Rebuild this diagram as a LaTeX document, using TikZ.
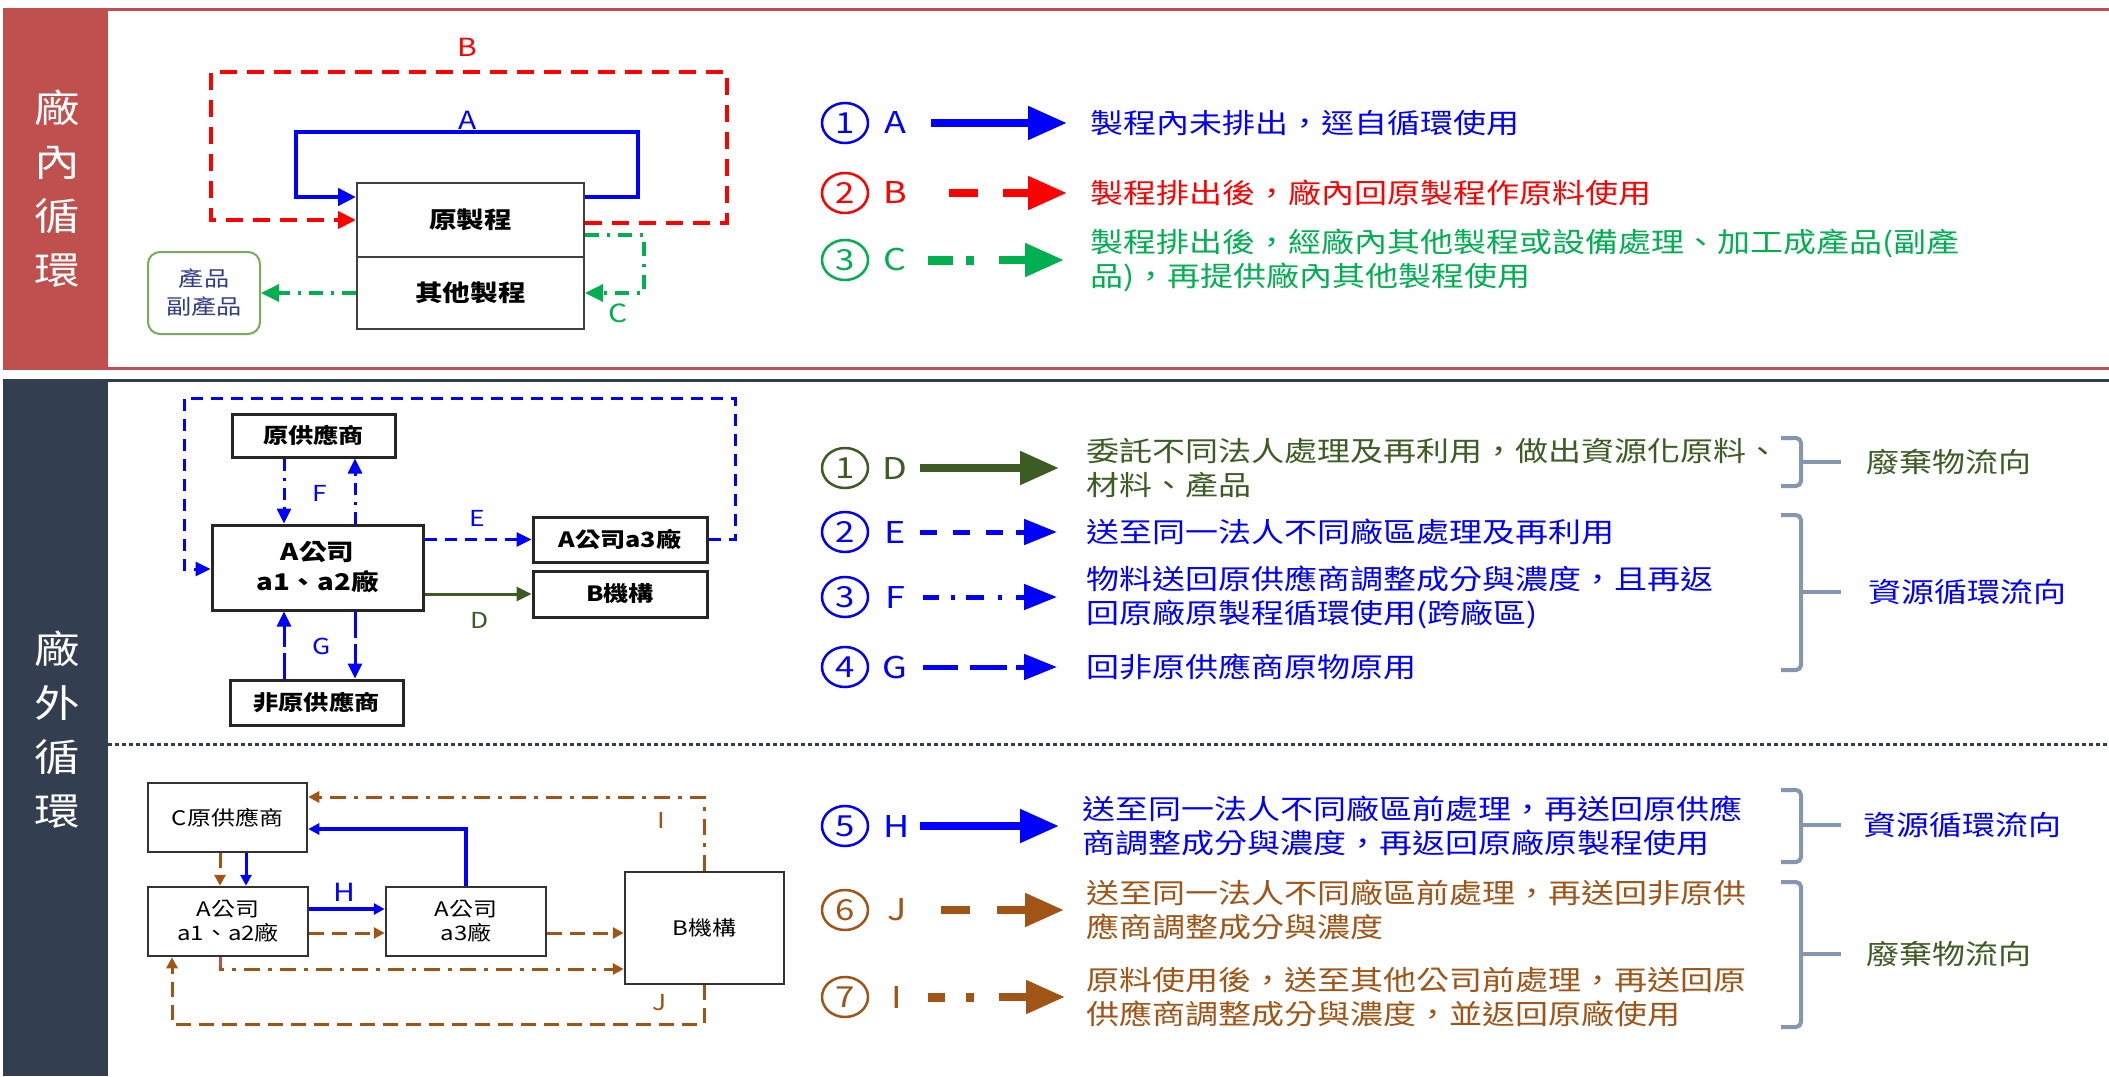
\documentclass[tikz,border=0pt]{standalone}
\usepackage{fontspec}
\setmainfont{Noto Sans CJK TC}[FakeStretch=1.2]
\usetikzlibrary{arrows.meta,shapes.geometric}
\definecolor{bandred}{RGB}{192,80,77}
\definecolor{slate}{RGB}{51,63,80}
\definecolor{cblue}{RGB}{0,0,255}
\definecolor{cred}{RGB}{255,0,0}
\definecolor{cgreen}{RGB}{0,176,80}
\definecolor{dgreen}{RGB}{60,92,36}
\definecolor{cbrown}{RGB}{160,84,22}
\definecolor{bracec}{RGB}{132,151,176}
\definecolor{navy}{RGB}{47,60,140}
\definecolor{pgreen}{RGB}{120,172,92}
\newcommand\myfs[2]{\fontsize{#1}{#2}\selectfont}
\begin{document}
\begin{tikzpicture}[x=1pt,y=-1pt,
  box/.style={draw=black!85, line width=2.5, inner sep=0, align=center, font=\bfseries\myfs{21}{26}},
  boxlow/.style={draw=black!80, line width=2.5, inner sep=0, align=center, font=\myfs{20}{24}},
  bandtxt/.style={text=white, align=center, inner sep=0, font=\myfs{38}{54}},
  lbl/.style={inner sep=0, font=\myfs{25}{30}},
  lbls/.style={inner sep=0, font=\myfs{22}{26}},
  legl/.style={inner sep=0, font=\myfs{30}{34}},
  legt/.style={anchor=west, inner sep=0, align=left, font=\myfs{27.5}{34}},
  circ/.style={ellipse, draw, line width=2.5, minimum width=46, minimum height=40, inner sep=0, font=\myfs{29}{32}},
  tipL/.style={-{Triangle[length=18pt,width=17pt]}},
  tipM/.style={-{Triangle[length=15pt,width=14pt]}},
  tipS/.style={-{Triangle[length=11pt,width=11pt]}},
  bigtip/.style={-{Triangle[length=39pt,width=32pt]}},
  midtip/.style={-{Triangle[length=33pt,width=25pt]}},
  dashB/.style={dash pattern=on 17pt off 10pt},
  dashdot/.style={dash pattern=on 14pt off 8pt on 3pt off 8pt},
  dashE/.style={dash pattern=on 12pt off 8pt},
  dashF/.style={dash pattern=on 12pt off 7pt on 3pt off 7pt},
  dashG/.style={dash pattern=on 26pt off 6pt},
  dashJ/.style={dash pattern=on 15pt off 8pt},
  dashI/.style={dash pattern=on 16pt off 8pt on 4pt off 8pt},
  brace/.style={draw=bracec, line width=4, rounded corners=5}]
\useasboundingbox (0,0) rectangle (2109,1076);
\fill[white] (0,0) rectangle (2109,1076);
% panels
\fill[bandred] (3,8) rectangle (108,369);
\draw[bandred,line width=3] (3,9) -- (2109,9);
\draw[bandred,line width=3] (3,368) -- (2109,368);
\fill[slate] (3,379) rectangle (108,1076);
\draw[slate,line width=3] (3,380) -- (2109,380);
\draw[slate,line width=3,dash pattern=on 4pt off 3pt] (108,744) -- (2109,744);
\node[bandtxt] (bt1) at (57,189) {廠\\內\\循\\環};
\node[bandtxt] (bt2) at (57,730) {廠\\外\\循\\環};

% ---------- top diagram ----------
\node[box, draw=black!75, line width=2, minimum width=227, minimum height=74, font=\bfseries\myfs{23}{28}] (proc) at (470.5,220) {原製程};
\node[box, draw=black!75, line width=2, minimum width=227, minimum height=72, font=\bfseries\myfs{23}{28}] (oth) at (470.5,293) {其他製程};
\node[draw=pgreen, line width=2, rounded corners=12, minimum width=112, minimum height=82, text=navy, font=\myfs{21}{28}, align=center, inner sep=0] (prod) at (204,293) {產品\\副產品};
\draw[cblue, line width=4.5, tipL] (proc.east |- 0,197) -- (638,197) -- (638,132) -- (296,132) -- (296,197) -- (proc.west |- 0,197);
\draw[cred, line width=4, dashB, tipL] (proc.east |- 0,223) -- (727,223) -- (727,72) -- (211,72) -- (211,220) -- (proc.west |- 0,220);
\draw[cgreen, line width=3.5, dashdot, tipL] (proc.east |- 0,235) -- (644,235) -- (644,293) -- (oth.east);
\draw[cgreen, line width=3.5, dashdot, tipL] (oth.west) -- (prod.east);
\node[lbl, text=cblue] (lA) at (468,120) {A};
\node[lbl, text=cred] (lB) at (467,47) {B};
\node[lbl, text=cgreen] (lC) at (618,313) {C};

% ---------- top legend ----------
\node[circ, draw=cblue, text=cblue] (c1) at (845,123) {1};
\node[legl, text=cblue] (LA) at (895,123) {A};
\draw[cblue, line width=8, bigtip] (931,123) -- (1067,123);
\node[legt, text=cblue] (tA) at (1090,123) {製程內未排出，逕自循環使用};

\node[circ, draw=cred, text=cred] (c2) at (845,193) {2};
\node[legl, text=cred] (LB) at (895,193) {B};
\draw[cred, line width=8] (949,193) -- (978,193);
\draw[cred, line width=8, bigtip] (1003,193) -- (1067,193);
\node[legt, text=cred] (tB) at (1090,193) {製程排出後，廠內回原製程作原料使用};

\node[circ, draw=cgreen, text=cgreen] (c3) at (845,260) {3};
\node[legl, text=cgreen] (LC) at (895,260) {C};
\draw[cgreen, line width=9] (928,260) -- (953,260) (966,260) -- (974,260);
\draw[cgreen, line width=8, bigtip] (999,260) -- (1064,260);
\node[legt, text=cgreen] (tC) at (1090,260) {製程排出後，經廠內其他製程或設備處理、加工成產品(副產\\品)，再提供廠內其他製程使用};

% ---------- bottom upper diagram ----------
\node[box, line width=3, minimum width=163, minimum height=43] (sup) at (313.5,435.5) {原供應商};
\node[box, line width=3, minimum width=211, minimum height=85, font=\bfseries\myfs{23}{30}] (ac) at (317.5,567.5) {A公司\\a1、a2廠};
\node[box, line width=3, minimum width=174, minimum height=45] (a3) at (620,539.5) {A公司a3廠};
\node[box, line width=3, minimum width=174, minimum height=46] (bj) at (620,594) {B機構};
\node[box, line width=3, minimum width=173, minimum height=45] (nsup) at (316.5,702.5) {非原供應商};
\draw[cblue, line width=3, dashF, tipM] (sup.south -| 284,0) -- (ac.north -| 284,0);
\draw[cblue, line width=3, dashF, tipM] (ac.north -| 355,0) -- (sup.south -| 355,0);
\draw[cblue, line width=3, dashG, tipM] (nsup.north -| 284,0) -- (ac.south -| 284,0);
\draw[cblue, line width=3, dashG, tipM] (ac.south -| 355,0) -- (nsup.north -| 355,0);
\draw[cblue, line width=3, dashE, tipM] (ac.east |- 0,539.5) -- (a3.west);
\draw[dgreen, line width=3, tipM] (ac.east |- 0,594) -- (bj.west);
\draw[cblue, line width=3, dashE, tipM] (a3.east) -- (735,539.5) -- (735,398) -- (184,398) -- (184,569) -- (ac.west |- 0,569);
\node[lbls, text=cblue] (lF) at (320,493) {F};
\node[lbls, text=cblue] (lE) at (477,518) {E};
\node[lbls, text=dgreen] (lD) at (480,620) {D};
\node[lbls, text=cblue] (lG) at (322,646) {G};

% ---------- bottom legend (upper) ----------
\node[circ, draw=dgreen, text=dgreen] (c4) at (845,468) {1};
\node[legl, text=dgreen] (LD) at (895,468) {D};
\draw[dgreen, line width=8, bigtip] (920,468) -- (1059,468);
\node[legt, text=dgreen] (tD) at (1086,468) {委託不同法人處理及再利用，做出資源化原料、\\材料、產品};

\node[circ, draw=cblue, text=cblue] (c5) at (845,532) {2};
\node[legl, text=cblue] (LE) at (895,532) {E};
\draw[cblue, line width=5] (920,532) -- (937,532) (953,532) -- (970,532) (986,532) -- (1003,532);
\draw[cblue, line width=5, midtip] (1016,532) -- (1057,532);
\node[legt, text=cblue] (tE) at (1086,532) {送至同一法人不同廠區處理及再利用};

\node[circ, draw=cblue, text=cblue] (c6) at (845,597) {3};
\node[legl, text=cblue] (LF) at (895,597) {F};
\draw[cblue, line width=5] (923,597) -- (939,597) (951,597) -- (955,597) (966,597) -- (984,597) (998,597) -- (1002,597);
\draw[cblue, line width=5, midtip] (1016,597) -- (1057,597);
\node[legt, text=cblue] (tF) at (1086,597) {物料送回原供應商調整成分與濃度，且再返\\回原廠原製程循環使用(跨廠區)};

\node[circ, draw=cblue, text=cblue] (c7) at (845,667) {4};
\node[legl, text=cblue] (LG) at (895,667) {G};
\draw[cblue, line width=5] (923,667) -- (958,667) (970,667) -- (1007,667);
\draw[cblue, line width=5, midtip] (1016,667) -- (1057,667);
\node[legt, text=cblue] (tG) at (1086,667) {回非原供應商原物原用};

\draw[brace] (1781,438) -- (1801,438) -- (1801,486) -- (1781,486);
\draw[brace] (1801,462) -- (1841,462);
\node[legt, text=dgreen] (k1) at (1866,462) {廢棄物流向};
\draw[brace] (1781,515) -- (1801,515) -- (1801,670) -- (1781,670);
\draw[brace] (1801,592) -- (1841,592);
\node[legt, text=cblue] (k2) at (1868,592) {資源循環流向};

% ---------- bottom lower diagram ----------
\node[boxlow, minimum width=159, minimum height=69] (cs) at (227.5,817.5) {C原供應商};
\node[boxlow, minimum width=160, minimum height=69] (a12) at (228,921.5) {A公司\\a1、a2廠};
\node[boxlow, minimum width=160, minimum height=69] (a3b) at (466,921.5) {A公司\\a3廠};
\node[boxlow, minimum width=159, minimum height=112] (bjb) at (704.5,928) {B機構};
\draw[cbrown, line width=3, dashJ, tipS] (cs.south -| 220,0) -- (a12.north -| 220,0);
\draw[cblue, line width=3, tipS] (cs.south -| 246,0) -- (a12.north -| 246,0);
\draw[cblue, line width=3.5, tipS] (a12.east |- 0,909) -- (a3b.west |- 0,909);
\draw[cblue, line width=3.5, tipS] (a3b.north) -- (466,829) -- (cs.east |- 0,829);
\draw[cbrown, line width=3, dashJ, tipS] (a12.east |- 0,933) -- (a3b.west |- 0,933);
\draw[cbrown, line width=3, dashJ, tipS] (a3b.east |- 0,933) -- (bjb.west |- 0,933);
\draw[cbrown, line width=3, dashI, tipS] (bjb.north) -- (704.5,797) -- (cs.east |- 0,797);
\draw[cbrown, line width=3, dashI, tipS] (a12.south -| 220,0) -- (220,969) -- (bjb.west |- 0,969);
\draw[bandred, line width=3] (a12.south -| 220,0) -- (220,966);
\draw[cbrown, line width=3, dashJ, tipS] (bjb.south) -- (704.5,1024) -- (172,1024) -- (a12.south -| 172,0);
\node[lbl, text=cblue] (lH) at (344,892) {H};
\node[lbls, text=cbrown] (lI) at (661,820) {I};
\node[lbls, text=cbrown] (lJ) at (660,1003) {J};

% ---------- bottom legend (lower) ----------
\node[circ, draw=cblue, text=cblue] (c8) at (845,826) {5};
\node[legl, text=cblue] (LH) at (897,826) {H};
\draw[cblue, line width=8, bigtip] (920,826) -- (1059,826);
\node[legt, text=cblue] (tH) at (1082,826) {送至同一法人不同廠區前處理，再送回原供應\\商調整成分與濃度，再返回原廠原製程使用};

\node[circ, draw=cbrown, text=cbrown] (c9) at (845,910) {6};
\node[legl, text=cbrown] (LJ) at (897,910) {J};
\draw[cbrown, line width=8] (941,910) -- (970,910);
\draw[cbrown, line width=8, bigtip] (997,910) -- (1064,910);
\node[legt, text=cbrown] (tJ) at (1086,910) {送至同一法人不同廠區前處理，再送回非原供\\應商調整成分與濃度};

\node[circ, draw=cbrown, text=cbrown] (c10) at (845,997) {7};
\node[legl, text=cbrown] (LI) at (897,997) {I};
\draw[cbrown, line width=9] (928,997) -- (945,997) (966,997) -- (974,997);
\draw[cbrown, line width=8, bigtip] (999,997) -- (1065,997);
\node[legt, text=cbrown] (tI) at (1086,997) {原料使用後，送至其他公司前處理，再送回原\\供應商調整成分與濃度，並返回原廠使用};

\draw[brace] (1781,790) -- (1801,790) -- (1801,862) -- (1781,862);
\draw[brace] (1801,825) -- (1841,825);
\node[legt, text=cblue] (k3) at (1863,825) {資源循環流向};
\draw[brace] (1781,882) -- (1801,882) -- (1801,1027) -- (1781,1027);
\draw[brace] (1801,954) -- (1841,954);
\node[legt, text=dgreen] (k4) at (1866,954) {廢棄物流向};
\end{tikzpicture}
\end{document}
